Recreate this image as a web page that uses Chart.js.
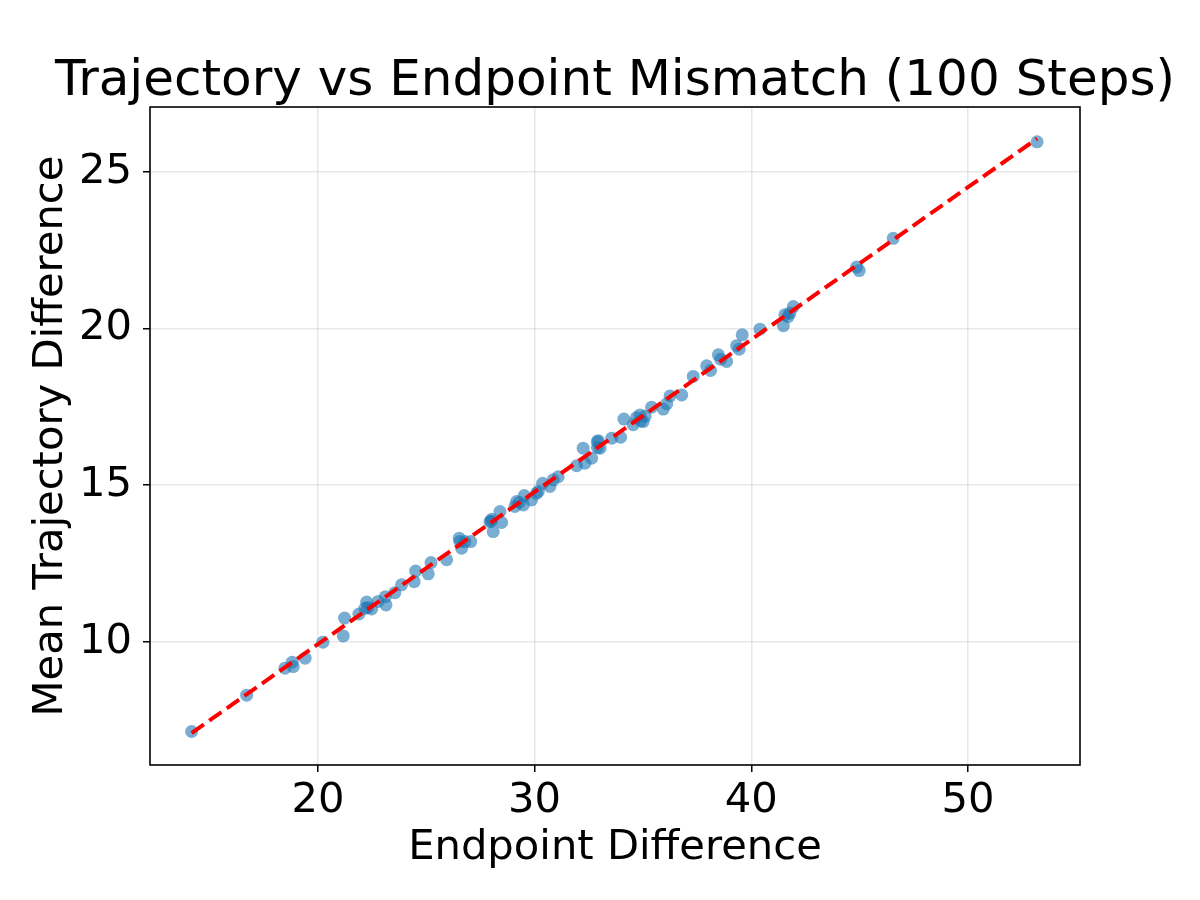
<!DOCTYPE html>
<html>
<head>
<meta charset="utf-8">
<script src="https://cdn.jsdelivr.net/npm/chart.js@4.4.1/dist/chart.umd.min.js"></script>
<style>
  html, body { margin: 0; padding: 0; background: #ffffff; }
  #wrap { width: 1200px; height: 900px; }
</style>
</head>
<body>
<div id="wrap"><canvas id="c" width="1200" height="900"></canvas></div>
<script>
// ---- Data ----
const endpointDiff = [
  14.17, 16.71, 18.48, 18.81, 18.86, 19.41, 20.23, 21.17, 21.23, 21.89,
  22.25, 22.17, 22.48, 22.78, 23.14, 23.11, 23.55, 23.86, 24.44, 24.51,
  25.09, 25.22, 25.94, 26.52, 26.63, 26.78, 27.05, 27.94, 28.09, 28.02,
  28.40, 28.48, 29.09, 29.17, 29.52, 29.48, 29.86, 30.17, 30.09, 30.37,
  30.71, 30.86, 31.09, 31.94, 32.24, 32.32, 32.63, 32.89, 33.02, 32.94,
  33.56, 33.97, 34.12, 34.55, 34.86, 35.01, 35.40, 35.94, 36.25, 36.79,
  37.32, 37.94, 38.12, 38.48, 38.59, 38.86, 39.32, 39.44, 39.58, 40.40,
  41.48, 41.55, 41.70, 41.78, 41.94, 44.86, 44.98, 46.55, 53.19,
  34.70, 35.10, 34.90, 36.10, 28.00, 29.30, 22.30, 32.90, 26.55
];
const meanTrajDiff = [
  7.14, 8.30, 9.16, 9.35, 9.21, 9.48, 9.99, 10.19, 10.76, 10.89,
  11.27, 11.07, 11.05, 11.29, 11.18, 11.44, 11.57, 11.82, 11.92, 12.26,
  12.17, 12.53, 12.62, 13.31, 12.99, 13.20, 13.20, 13.84, 13.52, 13.91,
  14.16, 13.81, 14.32, 14.48, 14.67, 14.37, 14.53, 14.80, 14.74, 15.06,
  14.96, 15.17, 15.27, 15.62, 16.18, 15.70, 15.86, 16.39, 16.18, 16.42,
  16.50, 16.53, 17.11, 16.93, 17.24, 17.03, 17.49, 17.43, 17.85, 17.88,
  18.47, 18.81, 18.66, 19.16, 19.02, 18.95, 19.45, 19.34, 19.80, 19.98,
  20.09, 20.44, 20.38, 20.49, 20.70, 21.96, 21.85, 22.88, 25.96,
  17.15, 17.20, 17.05, 17.60, 13.85, 14.45, 11.10, 16.20, 13.20
];
// Fitted trend line end points
const fitX = [14.17, 53.19];
const fitY = [7.09, 26.06];
// Tick labels
const xTicks = [20, 30, 40, 50];
const yTicks = [10, 15, 20, 25];
const titleText = 'Trajectory vs Endpoint Mismatch (100 Steps)';

const FONT = "'DejaVu Sans', sans-serif";
const points = endpointDiff.map((x, i) => ({ x: x, y: meanTrajDiff[i] }));
const fitLine = fitX.map((x, i) => ({ x: x, y: fitY[i] }));

const frame = {
  id: 'frame',
  afterDraw(chart) {
    const { ctx, chartArea: a } = chart;
    ctx.save();
    ctx.strokeStyle = '#000000';
    ctx.lineWidth = 1.6;
    ctx.strokeRect(a.left, a.top, a.right - a.left, a.bottom - a.top);
    // axes title, centred over the plot area like matplotlib
    ctx.fillStyle = '#000000';
    ctx.font = "50px " + FONT;
    ctx.textAlign = 'center';
    ctx.textBaseline = 'alphabetic';
    ctx.fillText(titleText, (a.left + a.right) / 2, 95);
    ctx.restore();
  }
};

new Chart(document.getElementById('c'), {
  type: 'scatter',
  data: {
    datasets: [
      {
        type: 'line',
        label: 'fit',
        data: fitLine,
        borderColor: '#ff0000',
        borderWidth: 4,
        borderDash: [15, 6.5],
        pointRadius: 0,
        fill: false,
        order: 0
      },
      {
        label: 'points',
        data: points,
        backgroundColor: 'rgba(31,119,180,0.6)',
        borderWidth: 0,
        pointRadius: 6.5,
        pointHoverRadius: 6.5,
        order: 1
      }
    ]
  },
  options: {
    responsive: false,
    devicePixelRatio: 1,
    animation: false,
    layout: { padding: { left: 0, right: 120, top: 107, bottom: 0 } },
    plugins: {
      legend: { display: false },
      tooltip: { enabled: false },
      title: { display: false }
    },
    scales: {
      x: {
        type: 'linear',
        min: 12.25,
        max: 55.17,
        afterBuildTicks: (s) => { s.ticks = xTicks.map(v => ({ value: v })); },
        afterFit: (s) => { s.height = 135; },
        grid: { color: 'rgba(176,176,176,0.3)', lineWidth: 1.5, tickColor: '#000000', tickLength: 7, drawTicks: true },
        border: { display: false },
        ticks: { color: '#000000', font: { family: FONT, size: 41.7 }, padding: 4, maxRotation: 0 },
        title: { display: true, text: 'Endpoint Difference', color: '#000000', font: { family: FONT, size: 41.7 }, padding: { top: 0, bottom: 27 } }
      },
      y: {
        type: 'linear',
        min: 6.07,
        max: 27.07,
        afterBuildTicks: (s) => { s.ticks = yTicks.map(v => ({ value: v })); },
        afterFit: (s) => { s.width = 150; },
        grid: { color: 'rgba(176,176,176,0.3)', lineWidth: 1.5, tickColor: '#000000', tickLength: 7, drawTicks: true },
        border: { display: false },
        ticks: { color: '#000000', font: { family: FONT, size: 41.7 }, padding: 11 },
        title: { display: true, text: 'Mean Trajectory Difference', color: '#000000', font: { family: FONT, size: 41.7 }, padding: { top: 26, bottom: 0 } }
      }
    }
  },
  plugins: [frame]
});
</script>
</body>
</html>
